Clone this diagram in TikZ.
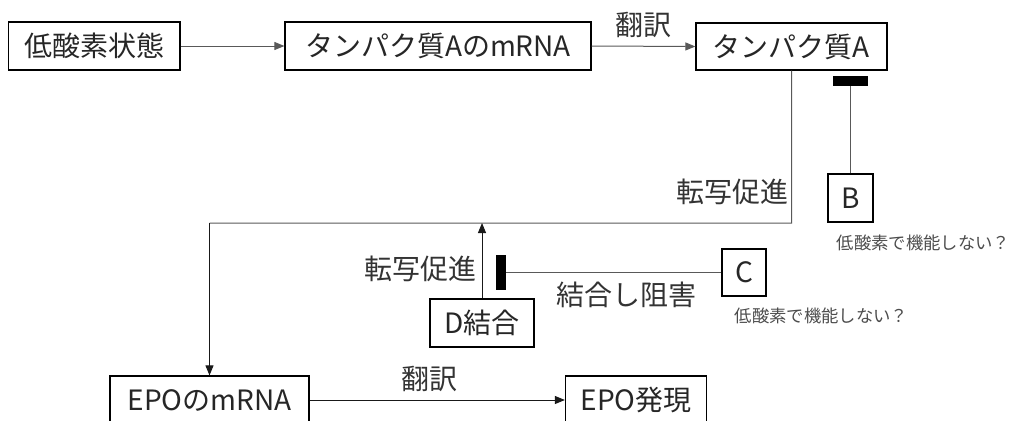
\documentclass[tikz,border=0pt]{standalone}
\usepackage{fontspec}
\setmainfont{Noto Sans CJK JP}
\usetikzlibrary{arrows.meta}
\tikzset{
  box/.style={draw=black, line width=0.9pt, inner sep=0pt, font=\fontsize{21}{21}\selectfont, text=black!85},
  lbl/.style={inner sep=0pt, font=\fontsize{21}{21}\selectfont, text=black!80},
  note/.style={inner sep=0pt, font=\fontsize{13}{13}\selectfont, text=black!70},
  conn/.style={draw=black!65, line width=0.75pt},
  darkconn/.style={draw=black!90, line width=0.75pt},
  arr/.style={conn, -{Triangle[length=7.5pt,width=6pt]}},
  darkarr/.style={darkconn, -{Triangle[length=7.5pt,width=6pt]}},
  barstyle/.style={fill=black, draw=none, inner sep=0pt}
}
\begin{document}
\begin{tikzpicture}[x=0.75pt, y=-0.75pt]
\useasboundingbox (0,0) rectangle (1011,421);
% boxes
\node[box, minimum width=128.6pt, minimum height=36pt] (n1) at (94.25,46) {低酸素状態};
\node[box, minimum width=229.5pt, minimum height=36pt] (n2) at (438,46) {タンパク質AのmRNA};
\node[box, minimum width=143.3pt, minimum height=35.3pt] (n3) at (791.5,46.5) {タンパク質A};
\node[box, minimum width=33.8pt, minimum height=36pt] (b) at (850.5,198) {B};
\node[box, minimum width=33pt, minimum height=35.3pt] (c) at (744,272.5) {C};
\node[box, minimum width=78pt, minimum height=36pt] (d) at (482,323) {D結合};
\node[box, minimum width=149.3pt, minimum height=36pt] (e1) at (209.5,400) {EPOのmRNA};
\node[box, minimum width=105.8pt, minimum height=36pt] (e2) at (636,400) {EPO発現};
% inhibitor bars
\node[barstyle, minimum width=26.3pt, minimum height=7.5pt] (barB) at (850.5,81) {};
\node[barstyle, minimum width=7.5pt, minimum height=26.3pt] (barC) at (501,272.5) {};
% labels
\node[lbl] (t1) at (643,25) {翻訳};
\node[lbl, anchor=east] (t2) at (789,192) {転写促進};
\node[lbl, anchor=east] (t3) at (477,269) {転写促進};
\node[lbl] (t4) at (626.5,295) {結合し阻害};
\node[lbl] (t5) at (429,379) {翻訳};
\node[note] (nb) at (923.5,243) {低酸素で機能しない？};
\node[note] (nc) at (821.5,316) {低酸素で機能しない？};
% coordinates
\coordinate (k1) at (791.7,223);
\coordinate (k2) at (209.5,223);
\coordinate (k3) at (482,223);
% connectors
\draw[arr] (n1.east) -- (n2.west);
\draw[arr] (n2.east) -- (n3.west);
\draw[conn] (n3.south) -- (k1) -- (k2);
\draw[darkarr] (k2) -- (e1.north);
\draw[darkarr] (d.north) -- (k3);
\draw[conn] (b.north) -- (barB.south);
\draw[conn] (c.west) -- (barC.east);
\draw[darkarr] (e1.east) -- (e2.west);
\end{tikzpicture}
\end{document}
